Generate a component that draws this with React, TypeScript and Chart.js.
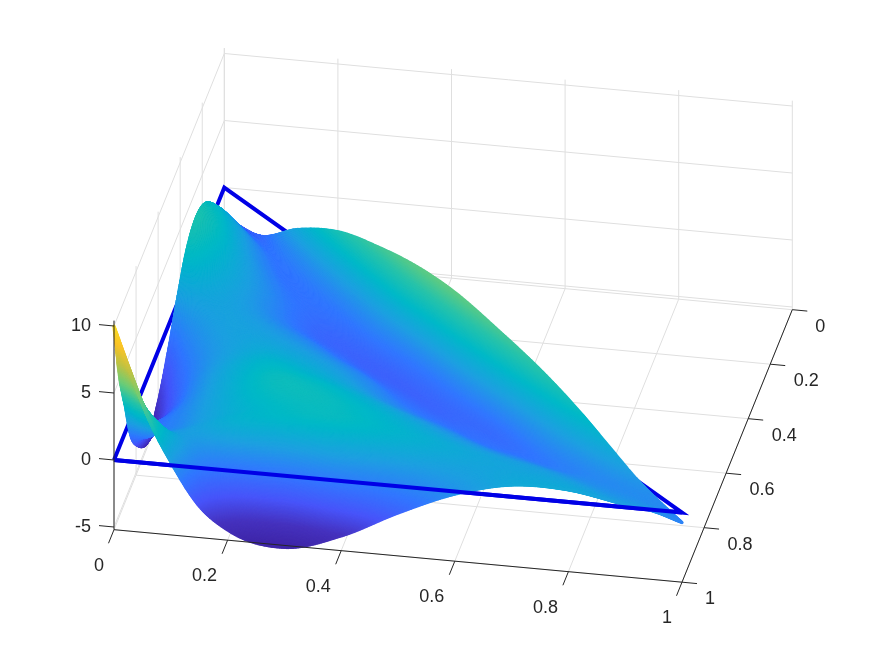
import React, { useEffect, useRef } from "react";
import { Chart, registerables } from "chart.js";
Chart.register(...registerables);

// Tick labels
const xTicks = [0, 0.2, 0.4, 0.6, 0.8, 1];
const yTicks = [0, 0.2, 0.4, 0.6, 0.8, 1];
const zTicks = [-5, 0, 5, 10];
const zMin = -5.2;
const zMax = 10.4;

// Surface domain: triangle 0 <= x <= y <= 1, tabulated at y = rowY, x = colR * y
const colR = [0, 0.03, 0.06, 0.1, 0.15, 0.2, 0.3, 0.4, 0.5, 0.6, 0.7, 0.8, 0.9, 0.95, 1];
const rowY = [0, 0.08, 0.16, 0.25, 0.34, 0.42, 0.5, 0.6, 0.7, 0.78, 0.85, 0.9, 0.95, 1];

const z00 = [-2.2, -2.2, -2.2, -2.2, -2.2, -2.2, -2.2, -2.2, -2.2, -2.2, -2.2, -2.2, -2.2, -2.2, -2.2];
const z08 = [0.1, 0.1, 0.05, 0, -0.1, -0.2, -0.5, -0.8, -1.1, -1.4, -1.6, -1.8, -1.8, -1.75, -1.7];
const z16 = [2.1, 2.05, 1.95, 1.8, 1.6, 1.3, 0.7, 0.1, -0.5, -1, -1.2, -1, -0.4, 0.15, 0.75];
const z25 = [2.9, 2.85, 2.7, 2.5, 2.15, 1.7, 0.8, 0, -0.7, -1.2, -1.2, -0.7, 0.5, 1.6, 2.75];
const z34 = [2.2, 2.2, 2.05, 1.8, 1.5, 1.2, 0.5, -0.2, -0.9, -1.3, -1.3, -0.8, 0.8, 2.3, 3.75];
const z42 = [0.4, 0.6, 0.75, 0.8, 0.75, 0.65, 0.2, -0.5, -1.2, -1.8, -1.8, -1.1, 0.8, 2.6, 4.3];
const z50 = [-1.75, -1.2, -0.6, -0.1, 0.3, 0.5, 0.4, 0, -0.6, -1.4, -2, -1.7, 0.1, 2.2, 4.4];
const z60 = [-3.9, -2.8, -1.8, -0.9, -0.1, 0.4, 0.9, 0.7, 0.2, -0.6, -1.6, -1.9, -0.5, 1.4, 3.85];
const z70 = [-4.75, -3.4, -2.3, -1, 0.1, 0.9, 1.8, 1.5, 0.8, -0.2, -1.1, -1.6, -1.1, 0.6, 3.05];
const z78 = [-3.4, -1.9, -1.3, -0.6, 0.3, 1.1, 2.3, 2.2, 1.5, 0.6, -0.3, -1.2, -1, 0.2, 2.05];
const z85 = [-1.1, -1.2, -0.8, -0.4, 0.4, 1.1, 2, 2.3, 1.8, 1.1, 0.3, -0.4, -0.8, -0.3, 0.9];
const z90 = [2.1, 1, 0.4, 0.3, 0.5, 1, 1.5, 1.9, 1.6, 1.2, 0.7, 0.2, -0.4, -0.4, 0.1];
const z95 = [5.3, 3.6, 2.4, 0.9, -0.9, -1.7, -1.8, -0.8, -0.2, 0.4, 0.7, 0.6, -0.1, -0.3, -0.4];
const z100 = [10, 6.6, 3.4, 0.25, -2.85, -4.44, -5.35, -4.1, -2, -0.2, 0.87, 0.9, 0.2, -0.1, -0.75];
const zRows = [z00, z08, z16, z25, z34, z42, z50, z60, z70, z78, z85, z90, z95, z100];

// Colour map (position in colour limits -> rgb)
const cmapPos = [0, 0.08, 0.17, 0.27, 0.37, 0.47, 0.56, 0.66, 0.78, 0.9, 1];
const cmapR = [62, 70, 72, 50, 30, 0, 40, 110, 190, 250, 249];
const cmapG = [38, 50, 85, 120, 160, 185, 195, 205, 195, 195, 220];
const cmapB = [168, 190, 250, 255, 225, 200, 170, 120, 70, 40, 30];
const cLow = -5.3;
const cHigh = 10;

// Orthographic view of the axes box
const project = (x: number, y: number, z: number) => ({
  x: 114 + 568 * x + 110.3 * (1 - y),
  y: 460 + 52.5 * x - 272.5 * (1 - y) - 13.4 * z,
});

// Smooth shading of the table: Hermite curve through the read values on their own, unevenly spaced knots
function hermite(knots: number[], v: number[], t: number) {
  const n = knots.length - 1;
  let i = 0;
  while (i < n - 1 && t > knots[i + 1]) i++;
  const slope = (k: number) => {
    if (k === 0) return (v[1] - v[0]) / (knots[1] - knots[0]);
    if (k === n) return (v[n] - v[n - 1]) / (knots[n] - knots[n - 1]);
    const h0 = knots[k] - knots[k - 1], h1 = knots[k + 1] - knots[k];
    const d0 = (v[k] - v[k - 1]) / h0, d1 = (v[k + 1] - v[k]) / h1;
    return (d0 * h1 + d1 * h0) / (h0 + h1);
  };
  const h = knots[i + 1] - knots[i];
  const f = (t - knots[i]) / h;
  const f2 = f * f, f3 = f2 * f;
  return (2 * f3 - 3 * f2 + 1) * v[i] + (f3 - 2 * f2 + f) * h * slope(i) + (-2 * f3 + 3 * f2) * v[i + 1] + (f3 - f2) * h * slope(i + 1);
}
function colourOf(z: number) {
  const t = Math.max(0, Math.min(1, (z - cLow) / (cHigh - cLow)));
  let k = 0;
  while (k < cmapPos.length - 2 && t > cmapPos[k + 1]) k++;
  const f = (t - cmapPos[k]) / (cmapPos[k + 1] - cmapPos[k]);
  const m = (a: number[]) => Math.round(a[k] + (a[k + 1] - a[k]) * f);
  return `rgb(${m(cmapR)},${m(cmapG)},${m(cmapB)})`;
}

// Sampling positions per table interval, dense enough that the painted dots close up on screen
function samples(knots: number[], counts: number[]) {
  const out: number[] = [];
  counts.forEach((n, k) => {
    for (let s = 0; s < n; s++) out.push(knots[k] + ((knots[k + 1] - knots[k]) * s) / n);
  });
  out.push(knots[knots.length - 1]);
  return out;
}
function surfacePoints() {
  const nr = rowY.length - 1, nc = colR.length - 1;
  const at = (r: number, c: number) => project(colR[c] * rowY[r], rowY[r], zRows[r][c]);
  const dist = (a: any, b: any) => Math.hypot(a.x - b.x, a.y - b.y);
  const rowCounts: number[] = [], colCounts: number[] = [];
  for (let r = 0; r < nr; r++) {
    let m = 0;
    for (let c = 0; c <= nc; c++) m = Math.max(m, dist(at(r, c), at(r + 1, c)));
    rowCounts.push(Math.max(4, Math.ceil((m * 1.5) / 2))); 
  }
  for (let c = 0; c < nc; c++) {
    let m = 0;
    for (let r = 0; r <= nr; r++) m = Math.max(m, dist(at(r, c), at(r, c + 1)));
    colCounts.push(Math.max(4, Math.ceil((m * 1.5) / 2)));
  }
  const rs = samples(rowY, rowCounts), cs = samples(colR, colCounts);
  const pts: { x: number; y: number; d: number; c: string }[] = [];
  for (const y of rs) {
    const colZ = colR.map((_, c) => hermite(rowY, zRows.map((r) => r[c]), y));
    for (const r of cs) {
      const z = hermite(colR, colZ, r);
      const x = r * y;
      const p = project(x, y, z);
      pts.push({ x: p.x, y: p.y, d: project(x, y, 0).y, c: colourOf(z) });
    }
  }
  pts.sort((a, b) => a.d - b.d);
  return pts;
}

function seg(out: any[], a: any, b: any) {
  out.push(a, b, { x: NaN, y: NaN });
}
function gridLines() {
  const g: any[] = [];
  for (const x of xTicks) {
    seg(g, project(x, 0, zMin), project(x, 1, zMin));
    seg(g, project(x, 0, zMin), project(x, 0, zMax));
  }
  for (const y of yTicks) {
    seg(g, project(0, y, zMin), project(1, y, zMin));
    seg(g, project(0, y, zMin), project(0, y, zMax));
  }
  for (const z of zTicks) {
    seg(g, project(0, 0, z), project(1, 0, z));
    seg(g, project(0, 0, z), project(0, 1, z));
  }
  return g;
}
function axisLines() {
  const a: any[] = [];
  seg(a, project(0, 1, zMin), project(1, 1, zMin));
  seg(a, project(1, 0, zMin), project(1, 1, zMin));
  seg(a, project(0, 1, zMin), project(0, 1, zMax));
  const tick = (p: any, dx: number, dy: number) => seg(a, p, { x: p.x + dx, y: p.y + dy });
  for (const x of xTicks) tick(project(x, 1, zMin), -5.5, 13.6);
  for (const y of yTicks) tick(project(1, y, zMin), 15, 1.4);
  for (const z of zTicks) tick(project(0, 1, z), -15, -1.4);
  return a;
}

const labelPlugin = {
  id: "tickText",
  afterDraw(chart: any) {
    const { ctx, scales } = chart;
    const put = (t: string, p: any, dx: number, dy: number, align: CanvasTextAlign) => {
      ctx.textAlign = align;
      ctx.fillText(t, scales.x.getPixelForValue(p.x + dx), scales.y.getPixelForValue(p.y + dy));
    };
    ctx.save();
    ctx.font = '18px "Liberation Sans", Arial, sans-serif';
    ctx.fillStyle = "#262626";
    ctx.textBaseline = "middle";
    for (const x of xTicks) put(String(x), project(x, 1, zMin), x === 0 || x === 1 ? -15 : -23, 36, "center");
    for (const y of yTicks) put(String(y), project(1, y, zMin), y === 0 || y === 1 ? 28 : 36, 17, "center");
    for (const z of zTicks) put(String(z), project(0, 1, z), -23, 0, "right");
    ctx.restore();
  },
};

export default function App() {
  const ref = useRef<HTMLCanvasElement>(null);
  useEffect(() => {
    document.body.style.margin = "0";
    const surf = surfacePoints();
    const A = project(0, 1, 0), B = project(0, 0, 0), C = project(1, 1, 0);
    const line = (data: any[], color: string, width: number, order: number) => ({
      type: "scatter", data, showLine: true, spanGaps: false, pointRadius: 0, borderColor: color, borderWidth: width, order, borderJoinStyle: "miter",
    });
    const chart = new Chart(ref.current!, {
      type: "scatter",
      data: {
        datasets: [
          line(axisLines(), "#262626", 1, 1),
          line([A, C], "#0000E6", 4, 2),
          {
            type: "scatter",
            data: surf.map((p) => ({ x: p.x, y: p.y })),
            pointRadius: 1.6,
            pointBorderWidth: 0,
            pointBackgroundColor: surf.map((p) => p.c),
            order: 3,
          },
          line([A, B, C, A], "#0000E6", 4, 4),
          line(gridLines(), "#DFDFDF", 1, 5),
        ] as any,
      },
      options: {
        responsive: false,
        animation: false,
        events: [],
        layout: { padding: 0, autoPadding: false },
        plugins: { legend: { display: false }, tooltip: { enabled: false }, title: { display: false } },
        scales: {
          x: { type: "linear", min: 0, max: 875, display: false },
          y: { type: "linear", min: 0, max: 656, reverse: true, display: false },
        },
      },
      plugins: [labelPlugin],
    } as any);
    return () => chart.destroy();
  }, []);
  return <canvas ref={ref} width={875} height={656} style={{ display: "block" }} />;
}
